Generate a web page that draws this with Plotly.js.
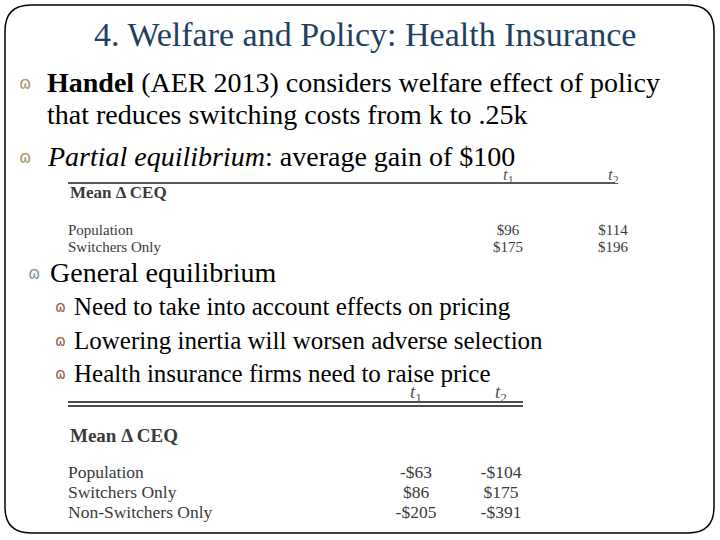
<!DOCTYPE html>
<html>
<head>
<meta charset="utf-8">
<script src="https://cdn.plot.ly/plotly-3.0.1.min.js"></script>
<style>html,body{margin:0;padding:0;background:#fff;}#chart{width:720px;height:540px;}</style>
</head>
<body>
<div id="chart"></div>
<script>
// ---- slide text ----
var slideTitle = "4. Welfare and Policy: Health Insurance";
var bulletLines = [
  "<b>Handel</b> (AER 2013) considers welfare effect of policy",
  "that reduces switching costs from k to .25k",
  "<i>Partial equilibrium</i>: average gain of $100"
];
var geHeading = "General equilibrium";
var geSubBullets = [
  "Need to take into account effects on pricing",
  "Lowering inertia will worsen adverse selection",
  "Health insurance firms need to raise price"
];

// ---- table data ----
var colLabels = ["<i>t</i><sub>1</sub>", "<i>t</i><sub>2</sub>"];
var tableHeading = "Mean Δ CEQ";
var peRows = ["Population", "Switchers Only"];
var peT1 = [96, 175];
var peT2 = [114, 196];
var geRows = ["Population", "Switchers Only", "Non-Switchers Only"];
var geT1 = [-63, 86, -205];
var geT2 = [-104, 175, -391];

function money(v){ return (v < 0 ? "-$" : "$") + Math.abs(v); }

var serif = "Liberation Serif, DejaVu Serif, serif";
var tabColor = "#3a3a3a";

var traces = [];
var annotations = [];
var shapes = [];

// slide border (rounded rect)
var L=5, T=5, R=714, B=533, r=26;
shapes.push({type:"path", xref:"x", yref:"y",
  path:"M "+(L+r)+" "+T+" L "+(R-r)+" "+T+" Q "+R+" "+T+" "+R+" "+(T+r)+
       " L "+R+" "+(B-r)+" Q "+R+" "+B+" "+(R-r)+" "+B+
       " L "+(L+r)+" "+B+" Q "+L+" "+B+" "+L+" "+(B-r)+
       " L "+L+" "+(T+r)+" Q "+L+" "+T+" "+(L+r)+" "+T+" Z",
  line:{color:"#000", width:1.5}, fillcolor:"rgba(0,0,0,0)"});

// title
annotations.push({x:365, y:34, xref:"x", yref:"y", text:slideTitle, showarrow:false,
  xanchor:"center", yanchor:"middle", font:{family:serif, size:34, color:"#1F3F63"}});

// bullets
var bulletGlyph = "ɷ";
function bullet(x, y, color, size){
  annotations.push({x:x, y:y, xref:"x", yref:"y", text:bulletGlyph, showarrow:false,
    xanchor:"left", yanchor:"middle", font:{family:"DejaVu Sans", size:size, color:color}});
}
var mainY = [82, 114, 156];
bullet(17, mainY[0]+1, "#A89A6A", 17);
bullet(17, mainY[2]+1, "#A89A6A", 17);
for (var k=0;k<bulletLines.length;k++){
  annotations.push({x:45, y:mainY[k], xref:"x", yref:"y", text:bulletLines[k], showarrow:false,
    xanchor:"left", yanchor:"middle", font:{family:serif, size:28, color:"#000"}});
}

bullet(26, 273, "#7F98B0", 17);
annotations.push({x:48, y:272, xref:"x", yref:"y", text:geHeading, showarrow:false,
  xanchor:"left", yanchor:"middle", font:{family:serif, size:28, color:"#000"}});
var subY = [306, 340, 373];
for (var i=0;i<geSubBullets.length;i++){
  bullet(53, subY[i]+1, "#A05A5A", 15);
  annotations.push({x:72, y:subY[i], xref:"x", yref:"y", text:geSubBullets[i], showarrow:false,
    xanchor:"left", yanchor:"middle", font:{family:serif, size:25, color:"#000"}});
}

function colHeads(cx, y, size){
  for (var j=0;j<colLabels.length;j++){
    annotations.push({x:cx[j], y:y, xref:"x", yref:"y", text:colLabels[j], showarrow:false,
      xanchor:"center", yanchor:"middle", font:{family:serif, size:size, color:"#555"}});
  }
}

// ---- partial equilibrium table ----
var pe = {left:68, right:615, rule:183, headY:176, c1:508, c2:613, meanY:192, rowY:[231, 248], fs:15};
shapes.push({type:"line", xref:"x", yref:"y", x0:pe.left, x1:pe.right, y0:pe.rule, y1:pe.rule, line:{color:"#222", width:1.5}});
colHeads([pe.c1, pe.c2], pe.headY, 17);
annotations.push({x:pe.left, y:pe.meanY, xref:"x", yref:"y", text:"<b>"+tableHeading+"</b>", showarrow:false,
  xanchor:"left", yanchor:"middle", font:{family:serif, size:17, color:tabColor}});
traces.push({type:"scatter", mode:"text", x:peRows.map(function(){return pe.left;}), y:pe.rowY, text:peRows,
  textposition:"middle right", textfont:{family:serif, size:pe.fs, color:tabColor}, hoverinfo:"skip"});
traces.push({type:"scatter", mode:"text", x:peRows.map(function(){return pe.c1;}), y:pe.rowY, text:peT1.map(money),
  textposition:"middle center", textfont:{family:serif, size:pe.fs, color:tabColor}, hoverinfo:"skip"});
traces.push({type:"scatter", mode:"text", x:peRows.map(function(){return pe.c2;}), y:pe.rowY, text:peT2.map(money),
  textposition:"middle center", textfont:{family:serif, size:pe.fs, color:tabColor}, hoverinfo:"skip"});

// ---- general equilibrium table ----
var ge = {left:68, right:523, rule1:402, rule2:406, headY:393, c1:416, c2:501, meanY:435, rowY:[474, 494, 514], fs:17.5};
shapes.push({type:"line", xref:"x", yref:"y", x0:ge.left, x1:ge.right, y0:ge.rule1, y1:ge.rule1, line:{color:"#111", width:1.3}});
shapes.push({type:"line", xref:"x", yref:"y", x0:ge.left, x1:ge.right, y0:ge.rule2, y1:ge.rule2, line:{color:"#111", width:1.3}});
colHeads([ge.c1, ge.c2], ge.headY, 19);
annotations.push({x:ge.left, y:ge.meanY, xref:"x", yref:"y", text:"<b>"+tableHeading+"</b>", showarrow:false,
  xanchor:"left", yanchor:"middle", font:{family:serif, size:19, color:tabColor}});
traces.push({type:"scatter", mode:"text", x:geRows.map(function(){return ge.left;}), y:ge.rowY, text:geRows,
  textposition:"middle right", textfont:{family:serif, size:ge.fs, color:tabColor}, hoverinfo:"skip"});
traces.push({type:"scatter", mode:"text", x:geRows.map(function(){return ge.c1;}), y:ge.rowY, text:geT1.map(money),
  textposition:"middle center", textfont:{family:serif, size:ge.fs, color:tabColor}, hoverinfo:"skip"});
traces.push({type:"scatter", mode:"text", x:geRows.map(function(){return ge.c2;}), y:ge.rowY, text:geT2.map(money),
  textposition:"middle center", textfont:{family:serif, size:ge.fs, color:tabColor}, hoverinfo:"skip"});

var layout = {
  width:720, height:540,
  margin:{l:0, r:0, t:0, b:0},
  paper_bgcolor:"#fff", plot_bgcolor:"#fff",
  showlegend:false,
  xaxis:{range:[0,720], visible:false, fixedrange:true},
  yaxis:{range:[540,0], visible:false, fixedrange:true},
  shapes:shapes,
  annotations:annotations
};
Plotly.newPlot("chart", traces, layout, {staticPlot:true, displayModeBar:false});
</script>
</body>
</html>
